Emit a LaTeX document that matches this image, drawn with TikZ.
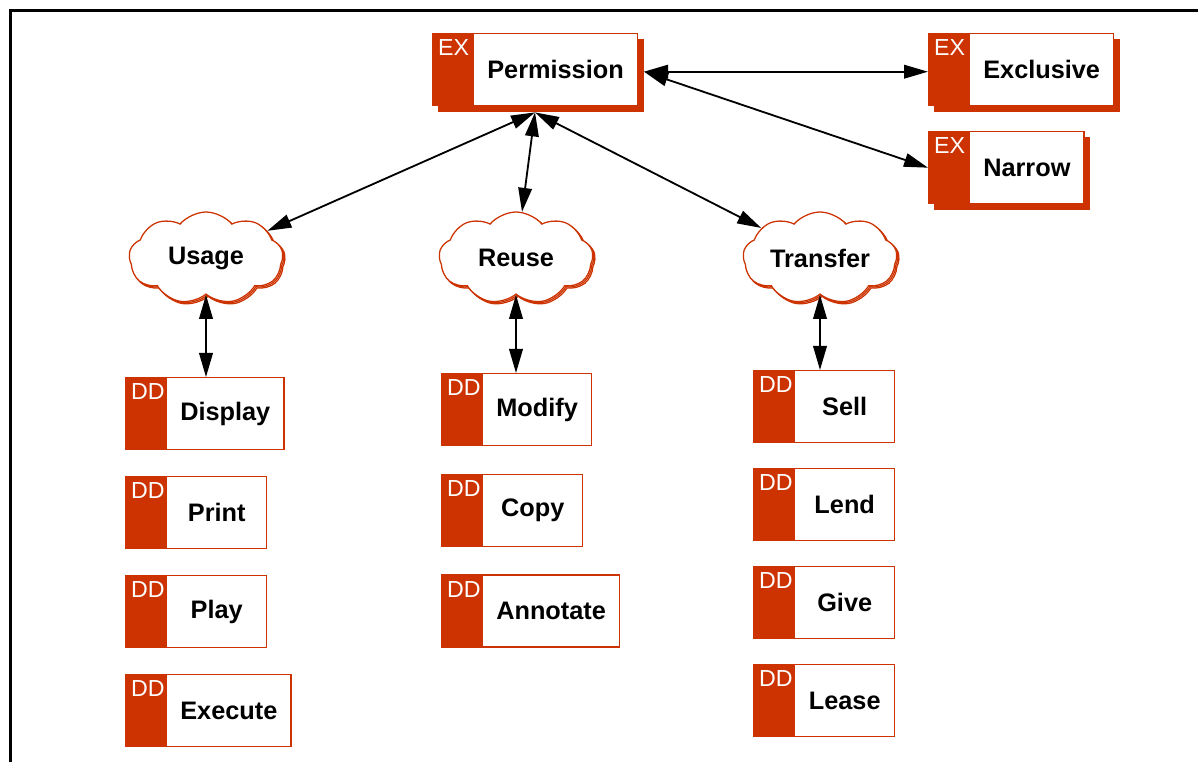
\documentclass[tikz,border=0pt]{standalone}
\usepackage{fontspec}
\setmainfont{Liberation Sans}
\usetikzlibrary{positioning,shapes.symbols,shadows,arrows.meta}
\definecolor{tagred}{RGB}{204,51,0}
\newcommand\boxlabelfont{\bfseries\fontsize{18}{21}\selectfont}
\newcommand\boxtagfont{\fontsize{16.5}{18}\selectfont}
\begin{document}
\begin{tikzpicture}[node distance=0.64cm,
    tagbox/.style={draw=tagred, fill=white, line width=1pt, minimum height=1.8cm,
      minimum width=3.525cm, inner xsep=0.34cm, font=\boxlabelfont,
      execute at begin node={\hspace*{1.025cm}},
      path picture={
        \fill[tagred] (path picture bounding box.north west) rectangle
          ([xshift=1.025cm]path picture bounding box.south west);
        \node[anchor=north west, inner sep=0pt, minimum size=0pt, draw=none, fill=none,
          text=white, font=\boxtagfont]
          at ([shift={(0.12cm,-0.14cm)}]path picture bounding box.north west) {\hspace*{-1.025cm}#1};
      }},
    ddbox/.style={tagbox=DD},
    exbox/.style={tagbox=EX, minimum width=3.725cm,
      general shadow={shadow xshift=0.14cm, shadow yshift=-0.14cm, fill=tagred, draw=tagred}},
    idea/.style={cloud, cloud puffs=9, cloud puff arc=100, cloud ignores aspect,
      draw=tagred, fill=white, line width=0.9pt, minimum width=3.85cm, minimum height=2.3cm,
      font=\boxlabelfont,
      general shadow={shadow xshift=1.6pt, shadow yshift=-1.6pt, draw=tagred, fill=white, line width=0.9pt},
      general shadow={shadow xshift=0.8pt, shadow yshift=-0.8pt, draw=tagred, fill=white, line width=0.9pt}},
    arr/.style={<->, >={Triangle[length=6mm,width=3.4mm]}, line width=1.3pt}]
  \useasboundingbox (0,0) rectangle (29.95,19.05);
  \draw[line width=2.1pt] (0.26,0) -- (0.26,18.79) -- (29.95,18.79);

  \node (perm) [exbox, anchor=north west] at (10.8,18.225) {Permission};
  \node (excl) [exbox, anchor=north west] at (23.2,18.225) {Exclusive};
  \node (narrow) [exbox, anchor=north west] at (23.2,15.775) {Narrow};

  \node (usage) [idea] at (5.15,12.6) {Usage};
  \node (reuse) [idea] at (12.9,12.6) {Reuse};
  \node (transfer) [idea] at (20.5,12.6) {Transfer};

  \node (display) [ddbox, anchor=north west] at (3.125,9.625) {Display};
  \node (print) [ddbox, below=of display.south west, anchor=north west] {Print};
  \node (play) [ddbox, below=of print.south west, anchor=north west] {Play};
  \node (execute) [ddbox, below=of play.south west, anchor=north west] {Execute};

  \node (modify) [ddbox, anchor=north west] at (11.025,9.725) {Modify};
  \node (copy) [ddbox, node distance=0.68cm, below=of modify.south west, anchor=north west] {Copy};
  \node (annotate) [ddbox, node distance=0.68cm, below=of copy.south west, anchor=north west] {Annotate};

  \node (sell) [ddbox, anchor=north west] at (18.825,9.8) {Sell};
  \node (lend) [ddbox, node distance=0.615cm, below=of sell.south west, anchor=north west] {Lend};
  \node (give) [ddbox, node distance=0.615cm, below=of lend.south west, anchor=north west] {Give};
  \node (lease) [ddbox, node distance=0.615cm, below=of give.south west, anchor=north west] {Lease};

  \coordinate (permfoot) at ([yshift=-0.15cm]perm.south);
  \coordinate (permside) at ([shift={(0.15cm,-0.05cm)}]perm.east);
  \draw[arr] (permside) -- (excl.west |- permside);
  \draw[arr] (permside) -- (narrow.west);
  \draw[arr] (permfoot) -- (usage);
  \draw[arr] (permfoot) -- (reuse);
  \draw[arr] (permfoot) -- (transfer);
  \draw[arr] (usage) -- (usage |- display.north);
  \draw[arr] (reuse) -- (reuse |- modify.north);
  \draw[arr] (transfer) -- (transfer |- sell.north);
\end{tikzpicture}
\end{document}
